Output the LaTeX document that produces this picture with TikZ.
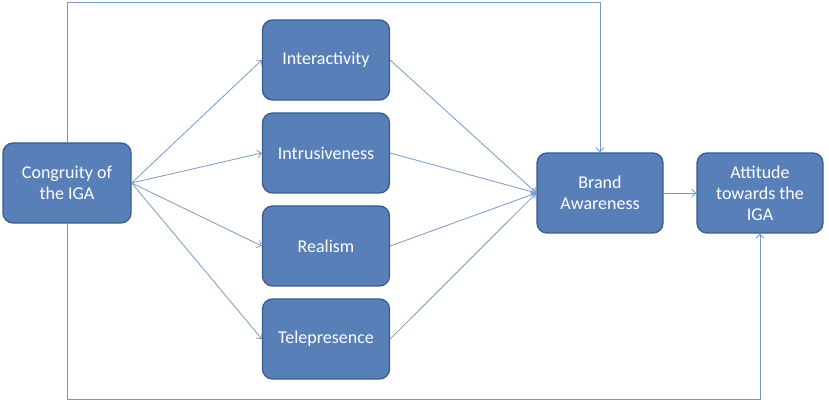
\documentclass[tikz,border=0pt]{standalone}
\usepackage{fontspec}
\setmainfont{Carlito}
\usetikzlibrary{arrows.meta}

\definecolor{boxfill}{HTML}{587FB8}
\definecolor{boxline}{HTML}{385D8A}
\definecolor{linkcol}{HTML}{7799CA}

\begin{document}
\begin{tikzpicture}[
        x = 1pt, y = 1pt,
        > = {Straight Barb[length=4pt, width=8pt]},
        factor/.style = {%
            draw = boxline, line width = 1.3pt, fill = boxfill,
            rounded corners = 10pt, text = white, align = center,
            minimum width = 127pt, minimum height = 80pt, inner sep = 2pt,
            font = \fontsize{18}{21}\selectfont
        },
        link/.style = {draw = linkcol, line width = 0.8pt, ->}
    ]

        % Frame of the picture.
        \useasboundingbox (0, 0) rectangle (829, 404);

        % Boxes.
        \node[factor, minimum width = 128pt] (cong) at (67, 221) {Congruity of\\the IGA};
        \node[factor] (inter) at (326, 344) {Interactivity};
        \node[factor] (intru) at (326, 251) {Intrusiveness};
        \node[factor] (real)  at (326, 158) {Realism};
        \node[factor] (tele)  at (326, 65)  {Telepresence};
        \node[factor, minimum width = 126pt] (brand) at (600, 211) {Brand\\Awareness};
        \node[factor, minimum width = 126pt] (att)   at (760, 211) {Attitude\\towards the\\IGA};

        % Corners of the frame lines.
        \coordinate (topL) at (67, 402);
        \coordinate (topR) at (600, 402);
        \coordinate (botL) at (67, 5);
        \coordinate (botR) at (760, 5);

        % Links to and from the mediators.
        \foreach \m in {inter, intru, real, tele}{%
            \draw[link] (cong.east) to (\m.west);
            \draw[link] (\m.east) to (brand.west);
        }

        % Direct paths.
        \draw[link] (brand.east) to (att.west);
        \draw[link] (cong.north) to (topL) to (topR) to (brand.north);
        \draw[link] (cong.south) to (botL) to (botR) to (att.south);
    \end{tikzpicture}
\end{document}
